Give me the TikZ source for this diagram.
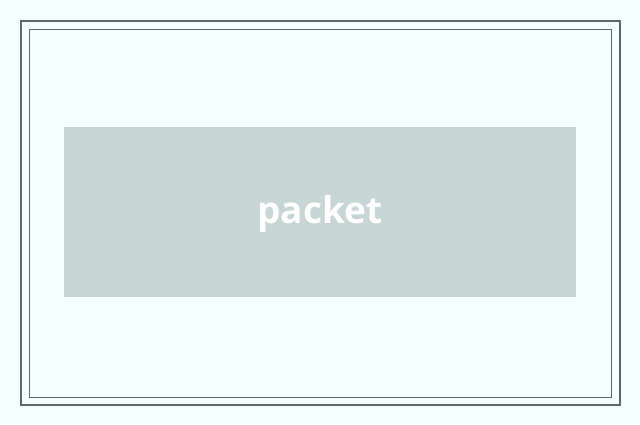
\documentclass[tikz,border=0pt]{standalone}
\usepackage{fontspec}
\setmainfont{Open Sans}
\definecolor{bgcol}{HTML}{F5FFFE}
\definecolor{framecol}{HTML}{5A6A69}
\definecolor{boxcol}{HTML}{C8D5D5}
\begin{document}
\begin{tikzpicture}[x=1pt,y=-1pt]
 \fill[bgcol](0,0) rectangle (640,425);
 \useasboundingbox (0,0) rectangle (640,425);
 \draw[framecol,line width=2pt](21,21) rectangle (620,405);
 \draw[framecol,line width=0.9pt](29,29) rectangle (611,397);
 \node[fill=boxcol,minimum width=512pt,minimum height=170pt,inner sep=0pt,text=white,text height=26pt,text depth=2pt,font=\fontsize{37}{40}\bfseries] (packet) at (320,211.7) {packet};
\end{tikzpicture}
\end{document}
